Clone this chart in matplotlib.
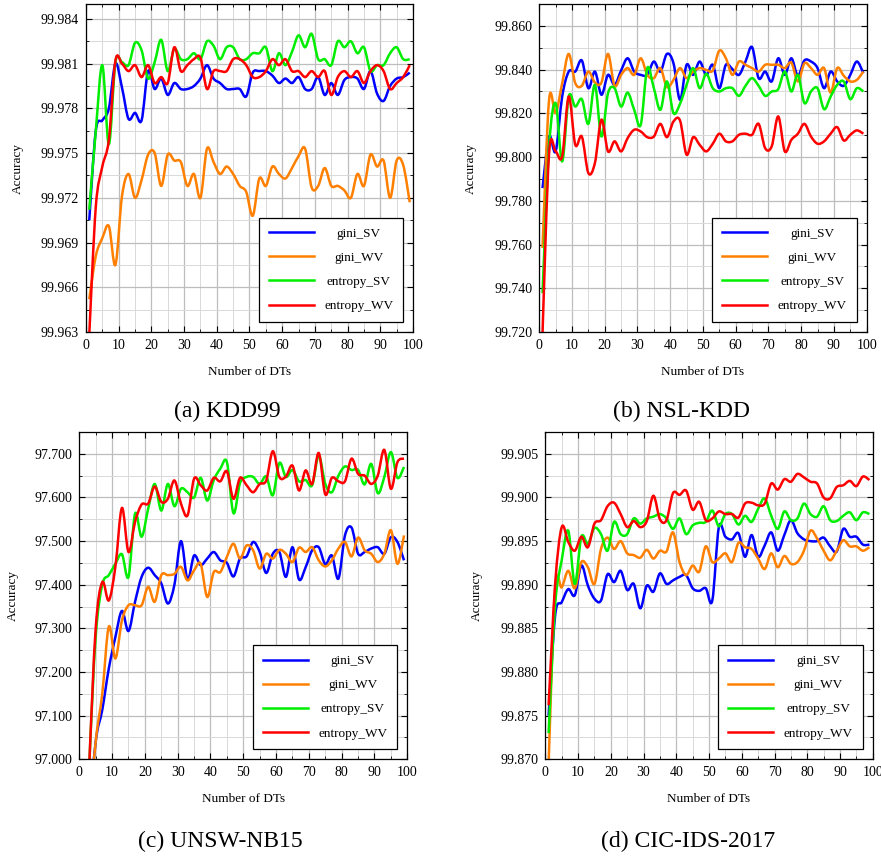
import numpy as np
import matplotlib
matplotlib.use("Agg")
import matplotlib.pyplot as plt
from matplotlib.ticker import MultipleLocator, FormatStrFormatter
from matplotlib.path import Path
from matplotlib.patches import PathPatch
from matplotlib.lines import Line2D

plt.rcParams['font.family'] = ['Liberation Serif', 'DejaVu Serif']

# number of decision trees (every second value)
n_dts = list(range(1, 100, 2))
series_names = ["gini_SV", "gini_WV", "entropy_SV", "entropy_WV"]
colors = ["#0000ff", "#ff8000", "#00ee00", "#ff0000"]

# (a) KDD99
kdd_gini_sv = [99.9705, 99.9765, 99.9772, 99.9780, 99.9810, 99.9794, 99.9773, 99.9777, 99.9772, 99.9805,
               99.9793, 99.9800, 99.9789, 99.9797, 99.9793, 99.9793, 99.9795, 99.9800, 99.9809, 99.9800,
               99.9797, 99.9793, 99.9793, 99.9793, 99.9788, 99.9804, 99.9805, 99.9805, 99.9802, 99.9797,
               99.9800, 99.9797, 99.9801, 99.9793, 99.9793, 99.9801, 99.9789, 99.9797, 99.9789, 99.9799,
               99.9801, 99.9800, 99.9793, 99.9805, 99.9790, 99.9785, 99.9795, 99.9800, 99.9801, 99.9804]
kdd_gini_wv = [99.9652, 99.9681, 99.9693, 99.9701, 99.9675, 99.9721, 99.9736, 99.9720, 99.9732, 99.9749,
               99.9750, 99.9728, 99.9749, 99.9745, 99.9744, 99.9728, 99.9736, 99.9720, 99.9753, 99.9744,
               99.9736, 99.9741, 99.9736, 99.9728, 99.9724, 99.9708, 99.9733, 99.9728, 99.9741, 99.9736,
               99.9733, 99.9740, 99.9748, 99.9753, 99.9727, 99.9728, 99.9740, 99.9728, 99.9728, 99.9725,
               99.9720, 99.9736, 99.9728, 99.9749, 99.9741, 99.9745, 99.9720, 99.9745, 99.9742, 99.9717]
kdd_entropy_sv = [99.9712, 99.9765, 99.9809, 99.9756, 99.9811, 99.9811, 99.9809, 99.9824, 99.9819, 99.9800,
                  99.9811, 99.9826, 99.9805, 99.9820, 99.9813, 99.9813, 99.9817, 99.9813, 99.9825, 99.9822,
                  99.9813, 99.9821, 99.9821, 99.9813, 99.9813, 99.9817, 99.9817, 99.9821, 99.9805, 99.9817,
                  99.9809, 99.9818, 99.9829, 99.9821, 99.9830, 99.9813, 99.9813, 99.9809, 99.9825, 99.9821,
                  99.9825, 99.9817, 99.9821, 99.9805, 99.9809, 99.9809, 99.9817, 99.9821, 99.9813, 99.9813]
kdd_entropy_wv = [99.9628, 99.9714, 99.9741, 99.9759, 99.9812, 99.9810, 99.9805, 99.9809, 99.9801, 99.9809,
                  99.9797, 99.9801, 99.9797, 99.9821, 99.9805, 99.9809, 99.9813, 99.9814, 99.9793, 99.9805,
                  99.9805, 99.9805, 99.9813, 99.9813, 99.9809, 99.9801, 99.9801, 99.9805, 99.9813, 99.9809,
                  99.9813, 99.9805, 99.9805, 99.9801, 99.9805, 99.9801, 99.9805, 99.9789, 99.9801, 99.9805,
                  99.9801, 99.9805, 99.9797, 99.9805, 99.9809, 99.9805, 99.9793, 99.9797, 99.9801, 99.9809]

# (b) NSL-KDD
nsl_gini_sv = [99.7858, 99.8094, 99.8026, 99.8277, 99.8391, 99.8391, 99.8442, 99.8315, 99.8391, 99.8285,
               99.8376, 99.8330, 99.8396, 99.8452, 99.8391, 99.8376, 99.8376, 99.8437, 99.8391, 99.8472,
               99.8429, 99.8262, 99.8422, 99.8376, 99.8437, 99.8376, 99.8422, 99.8315, 99.8422, 99.8402,
               99.8376, 99.8437, 99.8503, 99.8361, 99.8391, 99.8346, 99.8452, 99.8376, 99.8452, 99.8372,
               99.8442, 99.8437, 99.8407, 99.8315, 99.8391, 99.8346, 99.8326, 99.8376, 99.8437, 99.8384]
nsl_gini_wv = [99.7584, 99.8262, 99.8201, 99.8338, 99.8472, 99.8338, 99.8326, 99.8391, 99.8341, 99.8341,
               99.8472, 99.8326, 99.8376, 99.8407, 99.8376, 99.8452, 99.8376, 99.8361, 99.8407, 99.8320,
               99.8353, 99.8407, 99.8361, 99.8391, 99.8407, 99.8399, 99.8396, 99.8487, 99.8452, 99.8376,
               99.8437, 99.8422, 99.8407, 99.8391, 99.8422, 99.8422, 99.8422, 99.8407, 99.8432, 99.8346,
               99.8429, 99.8407, 99.8376, 99.8407, 99.8295, 99.8407, 99.8372, 99.8346, 99.8353, 99.8391]
nsl_entropy_sv = [99.7378, 99.8049, 99.8247, 99.7980, 99.8277, 99.8231, 99.8265, 99.8152, 99.8330, 99.8094,
                  99.8292, 99.8315, 99.8231, 99.8295, 99.8216, 99.8148, 99.8407, 99.8315, 99.8216, 99.8346,
                  99.8201, 99.8244, 99.8330, 99.8407, 99.8315, 99.8381, 99.8315, 99.8300, 99.8315, 99.8315,
                  99.8280, 99.8326, 99.8361, 99.8326, 99.8280, 99.8300, 99.8311, 99.8391, 99.8300, 99.8376,
                  99.8247, 99.8300, 99.8315, 99.8219, 99.8277, 99.8330, 99.8346, 99.8265, 99.8315, 99.8300]
nsl_entropy_wv = [99.7196, 99.8018, 99.8026, 99.8003, 99.8277, 99.8056, 99.8094, 99.7927, 99.7973, 99.8171,
                  99.8026, 99.8072, 99.8026, 99.8087, 99.8125, 99.8117, 99.8091, 99.8094, 99.8152, 99.8091,
                  99.8163, 99.8167, 99.8011, 99.8091, 99.8056, 99.8026, 99.8061, 99.8107, 99.8072, 99.8072,
                  99.8102, 99.8107, 99.8102, 99.8152, 99.8041, 99.8049, 99.8186, 99.8026, 99.8079, 99.8107,
                  99.8152, 99.8094, 99.8061, 99.8072, 99.8107, 99.8137, 99.8076, 99.8102, 99.8122, 99.8107]

# (c) UNSW-NB15
unsw_gini_sv = [96.50, 96.85, 97.04, 97.113, 97.208, 97.280, 97.340, 97.294, 97.361, 97.418,
                97.439, 97.422, 97.403, 97.357, 97.400, 97.500, 97.412, 97.467, 97.445, 97.460,
                97.475, 97.456, 97.450, 97.419, 97.460, 97.465, 97.498, 97.475, 97.427, 97.471,
                97.475, 97.418, 97.486, 97.412, 97.440, 97.479, 97.486, 97.447, 97.467, 97.414,
                97.513, 97.531, 97.471, 97.475, 97.483, 97.486, 97.471, 97.509, 97.498, 97.456]
unsw_gini_wv = [96.50, 96.85, 97.04, 97.150, 97.304, 97.231, 97.318, 97.353, 97.353, 97.353,
                97.395, 97.361, 97.422, 97.422, 97.425, 97.441, 97.410, 97.433, 97.448, 97.372,
                97.429, 97.429, 97.464, 97.494, 97.460, 97.490, 97.479, 97.437, 97.471, 97.460,
                97.480, 97.471, 97.452, 97.485, 97.475, 97.486, 97.456, 97.442, 97.456, 97.483,
                97.498, 97.465, 97.508, 97.479, 97.471, 97.452, 97.471, 97.525, 97.448, 97.513]
unsw_entropy_sv = [96.60, 96.98, 97.280, 97.400, 97.422, 97.448, 97.470, 97.418, 97.563, 97.510,
                   97.574, 97.631, 97.570, 97.631, 97.580, 97.620, 97.612, 97.600, 97.645, 97.593,
                   97.640, 97.666, 97.681, 97.564, 97.633, 97.647, 97.647, 97.631, 97.648, 97.605,
                   97.679, 97.647, 97.663, 97.637, 97.640, 97.628, 97.696, 97.631, 97.612, 97.650,
                   97.671, 97.663, 97.663, 97.630, 97.677, 97.610, 97.647, 97.704, 97.645, 97.670]
unsw_entropy_wv = [96.60, 96.98, 97.300, 97.406, 97.364, 97.441, 97.576, 97.475, 97.544, 97.584,
                   97.586, 97.625, 97.590, 97.597, 97.639, 97.586, 97.559, 97.643, 97.628, 97.616,
                   97.645, 97.637, 97.660, 97.597, 97.645, 97.628, 97.612, 97.631, 97.639, 97.706,
                   97.647, 97.648, 97.673, 97.616, 97.662, 97.631, 97.702, 97.607, 97.645, 97.637,
                   97.637, 97.689, 97.654, 97.650, 97.631, 97.650, 97.709, 97.620, 97.681, 97.689]

# (d) CIC-IDS-2017
cic_gini_sv = [99.8750, 99.8865, 99.8880, 99.8895, 99.8888, 99.8922, 99.8899, 99.8884, 99.8882, 99.8912,
               99.8903, 99.8916, 99.8894, 99.8901, 99.8873, 99.8899, 99.8892, 99.8913, 99.8901, 99.8905,
               99.8909, 99.8911, 99.8896, 99.8893, 99.8896, 99.8882, 99.8966, 99.8955, 99.8952, 99.8959,
               99.8932, 99.8957, 99.8932, 99.8945, 99.8960, 99.8939, 99.8957, 99.8974, 99.8959, 99.8952,
               99.8950, 99.8950, 99.8954, 99.8944, 99.8938, 99.8964, 99.8955, 99.8955, 99.8946, 99.8946]
cic_gini_wv = [99.8695, 99.8897, 99.8897, 99.8916, 99.8896, 99.8926, 99.8920, 99.8901, 99.8941, 99.8954,
               99.8941, 99.8950, 99.8936, 99.8934, 99.8931, 99.8940, 99.8930, 99.8939, 99.8938, 99.8960,
               99.8926, 99.8911, 99.8922, 99.8915, 99.8944, 99.8926, 99.8930, 99.8936, 99.8926, 99.8948,
               99.8943, 99.8941, 99.8930, 99.8918, 99.8936, 99.8920, 99.8933, 99.8924, 99.8926, 99.8939,
               99.8962, 99.8953, 99.8939, 99.8928, 99.8939, 99.8951, 99.8944, 99.8944, 99.8939, 99.8943]
cic_entropy_sv = [99.8730, 99.8877, 99.8928, 99.8962, 99.8901, 99.8955, 99.8947, 99.8965, 99.8958, 99.8939,
                  99.8972, 99.8958, 99.8958, 99.8976, 99.8970, 99.8976, 99.8978, 99.8981, 99.8976, 99.8964,
                  99.8976, 99.8958, 99.8968, 99.8971, 99.8972, 99.8985, 99.8967, 99.8981, 99.8981, 99.8969,
                  99.8979, 99.8972, 99.8987, 99.8999, 99.8979, 99.8964, 99.8984, 99.8974, 99.8976, 99.8993,
                  99.8981, 99.8978, 99.8990, 99.8974, 99.8973, 99.8979, 99.8983, 99.8974, 99.8983, 99.8981]
cic_entropy_wv = [99.8762, 99.8901, 99.8966, 99.8949, 99.8939, 99.8955, 99.8943, 99.8970, 99.8974, 99.8990,
                  99.8994, 99.8981, 99.8966, 99.8973, 99.8966, 99.8973, 99.9002, 99.8975, 99.8974, 99.9005,
                  99.9003, 99.9008, 99.8986, 99.8995, 99.8974, 99.8976, 99.8984, 99.8981, 99.8981, 99.8977,
                  99.8993, 99.8994, 99.8991, 99.8993, 99.9016, 99.9009, 99.9021, 99.9018, 99.9027, 99.9023,
                  99.9018, 99.9016, 99.9000, 99.8999, 99.9012, 99.9014, 99.9019, 99.9013, 99.9024, 99.9020]

panels = [
    ("(a) KDD99", [kdd_gini_sv, kdd_gini_wv, kdd_entropy_sv, kdd_entropy_wv], (99.963, 99.985), 0.003),
    ("(b) NSL-KDD", [nsl_gini_sv, nsl_gini_wv, nsl_entropy_sv, nsl_entropy_wv], (99.72, 99.87), 0.02),
    ("(c) UNSW-NB15", [unsw_gini_sv, unsw_gini_wv, unsw_entropy_sv, unsw_entropy_wv], (97.0, 97.75), 0.1),
    ("(d) CIC-IDS-2017", [cic_gini_sv, cic_gini_wv, cic_entropy_sv, cic_entropy_wv], (99.87, 99.9075), 0.005),
]

# axes boxes in figure fractions [left, bottom, width, height]
boxes = [
    [0.0976, 0.6126, 0.3712, 0.3827],
    [0.6121, 0.6126, 0.3716, 0.3827],
    [0.0900, 0.1140, 0.3723, 0.3819],
    [0.6190, 0.1140, 0.3716, 0.3819],
]
ylabel_x = [-0.19, -0.19, -0.185, -0.19]
caption_pos = [(0.258, 0.507), (0.773, 0.507), (0.250, 0.006), (0.781, 0.006)]


def smooth_path(x, y):
    # pgfplots-like "smooth": Catmull-Rom segments drawn as cubic Beziers
    p = np.column_stack([x, y]).astype(float)
    n = len(p)
    verts = [p[0]]
    for i in range(n - 1):
        p0 = p[i - 1] if i > 0 else p[i]
        p3 = p[i + 2] if i + 2 < n else p[i + 1]
        verts += [p[i] + (p[i + 1] - p0) / 6, p[i + 1] - (p3 - p[i]) / 6, p[i + 1]]
    codes = [Path.MOVETO] + [Path.CURVE4] * (3 * (n - 1))
    return Path(verts, codes)


fig = plt.figure(figsize=(8.81, 8.57), dpi=100)
legends = []

for (caption, ys, ylim, ystep), box, ylx, cpos in zip(panels, boxes, ylabel_x, caption_pos):
    ax = fig.add_axes(box)
    handles = []
    for y, name, c in zip(ys, series_names, colors):
        ax.add_patch(PathPatch(smooth_path(n_dts, y), fill=False, edgecolor=c, lw=1.8,
                               joinstyle='round', zorder=2))
        handles.append(Line2D([], [], color=c, lw=1.8, label=name))
    ax.set_xlim(0, 100)
    ax.set_ylim(*ylim)
    ax.xaxis.set_major_locator(MultipleLocator(10))
    ax.xaxis.set_minor_locator(MultipleLocator(5))
    ax.yaxis.set_major_locator(MultipleLocator(ystep))
    ax.yaxis.set_minor_locator(MultipleLocator(ystep / 2))
    ax.yaxis.set_major_formatter(FormatStrFormatter('%.3f'))
    ax.set_axisbelow(True)
    ax.grid(which='major', color='#bdbdbd', lw=0.9)
    ax.grid(which='minor', color='#d9d9d9', lw=0.7)
    ax.tick_params(which='both', direction='in', top=True, right=True, labelsize=10, pad=5)
    ax.tick_params(which='major', length=4, width=0.8)
    ax.tick_params(which='minor', length=2.5, width=0.6)
    for s in ax.spines.values():
        s.set_linewidth(0.9)
    ax.set_xlabel("Number of DTs", fontsize=9.5)
    ax.set_ylabel("Accuracy", fontsize=9.5)
    ax.xaxis.set_label_coords(0.5, -0.104)
    ax.yaxis.set_label_coords(ylx, 0.5)
    leg = ax.legend(handles=handles, loc='lower right', fontsize=9.5, fancybox=False, framealpha=1,
                    edgecolor='black', handlelength=3.4, handletextpad=0.8,
                    labelspacing=0.9, borderpad=0.75, borderaxespad=0.75)
    leg.get_frame().set_linewidth(0.9)
    legends.append(leg)
    fig.text(cpos[0], cpos[1], caption, fontsize=17, ha='center', va='bottom')

# centre the legend labels in their column, as in the original
fig.canvas.draw()
for leg in legends:
    texts = leg.get_texts()
    widths = [t.get_window_extent().width for t in texts]
    wmax = max(widths)
    for t, w in zip(texts, widths):
        t.set_x((wmax - w) / 2)

fig.savefig("out.png", dpi=100)
